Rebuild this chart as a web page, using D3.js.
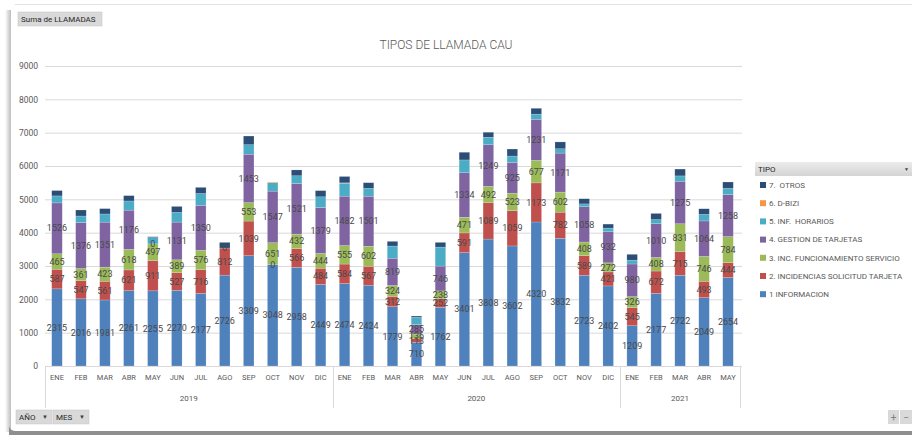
<!DOCTYPE html>
<html><head><meta charset="utf-8">
<script src="https://cdn.jsdelivr.net/npm/d3@7"></script>
<style>
html,body{margin:0;padding:0;background:#fff;}
svg{display:block;font-family:Roboto,"Open Sans",sans-serif;}
text{white-space:pre;}
</style></head>
<body>
<svg id="chart" width="912" height="435"></svg>
<script>
// ---- data ----
const years = ["2019","2020","2021"];
const monthsPerYear = [12,12,5];
const monthNames = ["ENE","FEB","MAR","ABR","MAY","JUN","JUL","AGO","SEP","OCT","NOV","DIC"];
const yTicks = [0,1000,2000,3000,4000,5000,6000,7000,8000,9000];

const informacion   = [2315,2016,1981,2261,2255,2270,2177,2726,3309,3048,2958,2449, 2474,2424,1779,710,1762,3401,3808,3602,4320,3832,2723,2402, 1209,2177,2722,2049,2654];
const solicitud     = [587,547,561,621,911,527,716,812,1039,0,566,484, 584,567,312,113,252,591,1089,1059,1173,782,589,421, 545,672,715,493,444];
const funcionamiento= [465,361,423,618,497,389,576,0,553,651,432,444, 555,602,324,136,238,471,492,523,677,602,408,272, 326,408,831,746,784];
const gestion       = [1526,1376,1351,1176,0,1131,1350,null,1453,1547,1521,1379, 1482,1501,819,285,746,1334,1249,925,1231,1171,1058,932, 980,1010,1275,1064,1258];
const horarios      = [210,200,245,275,190,290,355,null,285,255,230,320, 390,235,365,215,570,385,225,190,155,130,85,110, 115,125,160,195,190];
const dbizi         = [null,null,null,null,null,null,null,null,null,20,null,null, 10,null,null,null,null,null,null,null,null,null,null,null, null,null,null,null,null];
const otros         = [160,180,160,160,25,180,185,170,260,null,175,185, 190,170,140,40,140,230,150,210,175,205,155,120, 175,185,205,170,190];

const seriesNames = ["1 INFORMACION","2. INCIDENCIAS SOLICITUD TARJETA","3. INC. FUNCIONAMIENTO SERVICIO","4. GESTION DE TARJETAS","5. INF.  HORARIOS","6. D-BIZI","7.  OTROS"];
const seriesData = [informacion,solicitud,funcionamiento,gestion,horarios,dbizi,otros];
const seriesColors = ["#4f81bd","#c0504d","#9bbb59","#8064a2","#4bacc6","#f79646","#2c4d75"];
const labeled = [true,true,true,true,false,false,false];

// categories
const categories = [];
years.forEach((y,yi)=>{ for(let m=0;m<monthsPerYear[yi];m++) categories.push({year:y, month:monthNames[m], key:y+"-"+m}); });

const svg = d3.select("#chart");
const txt = "#595959";

// ---- frame ----
const defs = svg.append("defs");
const lg = defs.append("linearGradient").attr("id","shadowL").attr("x1",0).attr("x2",1);
lg.append("stop").attr("offset",0).attr("stop-color","#fff");
lg.append("stop").attr("offset",1).attr("stop-color","#bdbdbd");
svg.append("rect").attr("x",5).attr("y",10).attr("width",6).attr("height",422).attr("fill","url(#shadowL)");
svg.append("line").attr("x1",15).attr("x2",912).attr("y1",4.5).attr("y2",4.5).attr("stroke","#e3e3e3");
svg.append("rect").attr("x",11).attr("y",8).attr("width",901).attr("height",422).attr("fill","#fff");
svg.append("path").attr("d","M9,426 Q10,431 16,431 L912,431 L912,435 L9,435 Z").attr("fill","#8f8f8f");

// ---- scales ----
const x = d3.scaleBand().domain(categories.map(c=>c.key)).range([45,740]).paddingInner(0.56).paddingOuter(0.28);
const y = d3.scaleLinear().domain([0,9000]).range([366,66]);

// gridlines
svg.append("g").attr("transform","translate(45,0)")
  .call(d3.axisLeft(y).tickValues(yTicks).tickSize(-697).tickFormat(""))
  .call(g=>g.select(".domain").remove())
  .call(g=>g.selectAll("line").attr("stroke","#d9d9d9").attr("stroke-width",1));

// y labels
svg.append("g").attr("transform","translate(38,0)")
  .call(d3.axisLeft(y).tickValues(yTicks).tickSize(0).tickPadding(0).tickFormat(d3.format("d")))
  .call(g=>g.select(".domain").remove())
  .call(g=>g.selectAll("text").attr("fill",txt).attr("font-size","8.5px").attr("font-family","Roboto,sans-serif"));

// ---- stacked bars ----
const stackRows = categories.map((c,i)=>{ const o={key:c.key}; seriesNames.forEach((s,si)=>o[s]=seriesData[si][i]||0); return o; });
const stacked = d3.stack().keys(seriesNames)(stackRows);

stacked.forEach((layer,si)=>{
  svg.append("g").selectAll("rect").data(layer.map((d,i)=>({d,i})).filter(o=>seriesData[si][o.i]!=null && seriesData[si][o.i]>0))
    .join("rect")
    .attr("x",o=>x(o.d.data.key))
    .attr("width",x.bandwidth())
    .attr("y",o=>y(o.d[1]))
    .attr("height",o=>y(o.d[0])-y(o.d[1]))
    .attr("fill",seriesColors[si])
    .attr("stroke","#ffffff").attr("stroke-opacity",0.35).attr("stroke-width",0.5);
});

// labels
stacked.forEach((layer,si)=>{
  if(!labeled[si]) return;
  svg.append("g").selectAll("text").data(layer.map((d,i)=>({d,i})).filter(o=>seriesData[si][o.i]!=null))
    .join("text")
    .attr("x",o=>x(o.d.data.key)+x.bandwidth()/2)
    .attr("y",o=>(y(o.d[0])+y(o.d[1]))/2)
    .attr("dy","0.35em")
    .attr("text-anchor","middle")
    .attr("font-size","9px")
    .attr("fill","#4a4a4a")
    .text(o=>seriesData[si][o.i]);
});

// ---- x axis (months) ----
svg.append("g").attr("transform","translate(0,366)")
  .call(d3.axisBottom(x).tickSize(0).tickPadding(9).tickFormat(k=>categories.find(c=>c.key===k).month))
  .call(g=>g.select(".domain").remove())
  .call(g=>g.selectAll("text").attr("fill",txt).attr("font-size","7.5px").attr("font-family","Roboto,sans-serif"));

// year groups
let start=0;
const sepX=[x.range()[0]];
years.forEach((yr,yi)=>{
  const first=categories[start].key, last=categories[start+monthsPerYear[yi]-1].key;
  const xa = x(first)+x.bandwidth()/2 - x.step()/2;
  const xb = x(last)+x.bandwidth()/2 + x.step()/2;
  svg.append("text").attr("x",(xa+xb)/2).attr("y",401).attr("text-anchor","middle")
    .attr("font-size","8px").attr("fill",txt).text(yr);
  sepX.push(xb);
  start+=monthsPerYear[yi];
});
svg.append("g").selectAll("line").data(sepX).join("line")
  .attr("x1",d=>Math.round(d)+0.5).attr("x2",d=>Math.round(d)+0.5)
  .attr("y1",366).attr("y2",408).attr("stroke","#d9d9d9");

// ---- title ----
svg.append("text").attr("x",446).attr("y",49).attr("text-anchor","middle")
  .attr("font-size","12px").attr("font-weight",300).attr("fill",txt).text("TIPOS DE LLAMADA CAU");

// ---- field buttons ----
function button(x0,y0,w,h,label,arrow){
  const g=svg.append("g");
  g.append("rect").attr("x",x0).attr("y",y0).attr("width",w).attr("height",h).attr("fill","#d9d9d9").attr("stroke","#c4c4c4").attr("stroke-width",0.5);
  g.append("text").attr("x",x0+3).attr("y",y0+h/2).attr("dy","0.35em").attr("font-size","8px").attr("fill","#262626").text(label);
  if(arrow) g.append("text").attr("x",x0+w-4).attr("y",y0+h/2).attr("dy","0.35em").attr("text-anchor","end").attr("font-size","6px").attr("fill","#404040").text("▼");
}
button(18,12,84,14,"Suma de LLAMADAS",false);
button(16,410,36,14,"AÑO",true);
button(53,410,36,14,"MES",true);
// +/- buttons
svg.append("rect").attr("x",888).attr("y",410).attr("width",11).attr("height",14).attr("fill","#d9d9d9");
svg.append("rect").attr("x",900).attr("y",410).attr("width",12).attr("height",14).attr("fill","#d9d9d9");
svg.append("text").attr("x",893.5).attr("y",417).attr("dy","0.35em").attr("text-anchor","middle").attr("font-size","10px").attr("fill","#7f7f7f").text("+");
svg.append("text").attr("x",906).attr("y",417).attr("dy","0.35em").attr("text-anchor","middle").attr("font-size","10px").attr("fill","#7f7f7f").text("−");

// ---- legend ----
const lgG = defs.append("linearGradient").attr("id","hdr").attr("x1",0).attr("x2",0).attr("y1",0).attr("y2",1);
lgG.append("stop").attr("offset",0).attr("stop-color","#ececec");
lgG.append("stop").attr("offset",1).attr("stop-color","#d4d4d4");
svg.append("rect").attr("x",755).attr("y",162).attr("width",157).attr("height",14).attr("fill","url(#hdr)");
svg.append("text").attr("x",758).attr("y",169).attr("dy","0.35em").attr("font-size","8px").attr("fill","#262626").text("TIPO");
svg.append("text").attr("x",909).attr("y",169).attr("dy","0.35em").attr("text-anchor","end").attr("font-size","5px").attr("fill","#404040").text("▼");

const legendOrder = d3.range(seriesNames.length).reverse();
const leg = svg.append("g").selectAll("g").data(legendOrder).join("g")
  .attr("transform",(d,i)=>`translate(760,${185+i*18.2})`);
leg.append("rect").attr("x",0).attr("y",-3).attr("width",6).attr("height",6).attr("fill",d=>seriesColors[d]);
leg.append("text").attr("x",9).attr("y",0).attr("dy","0.35em").attr("font-size","8px").attr("fill",txt).text(d=>seriesNames[d]);
</script>
</body></html>
